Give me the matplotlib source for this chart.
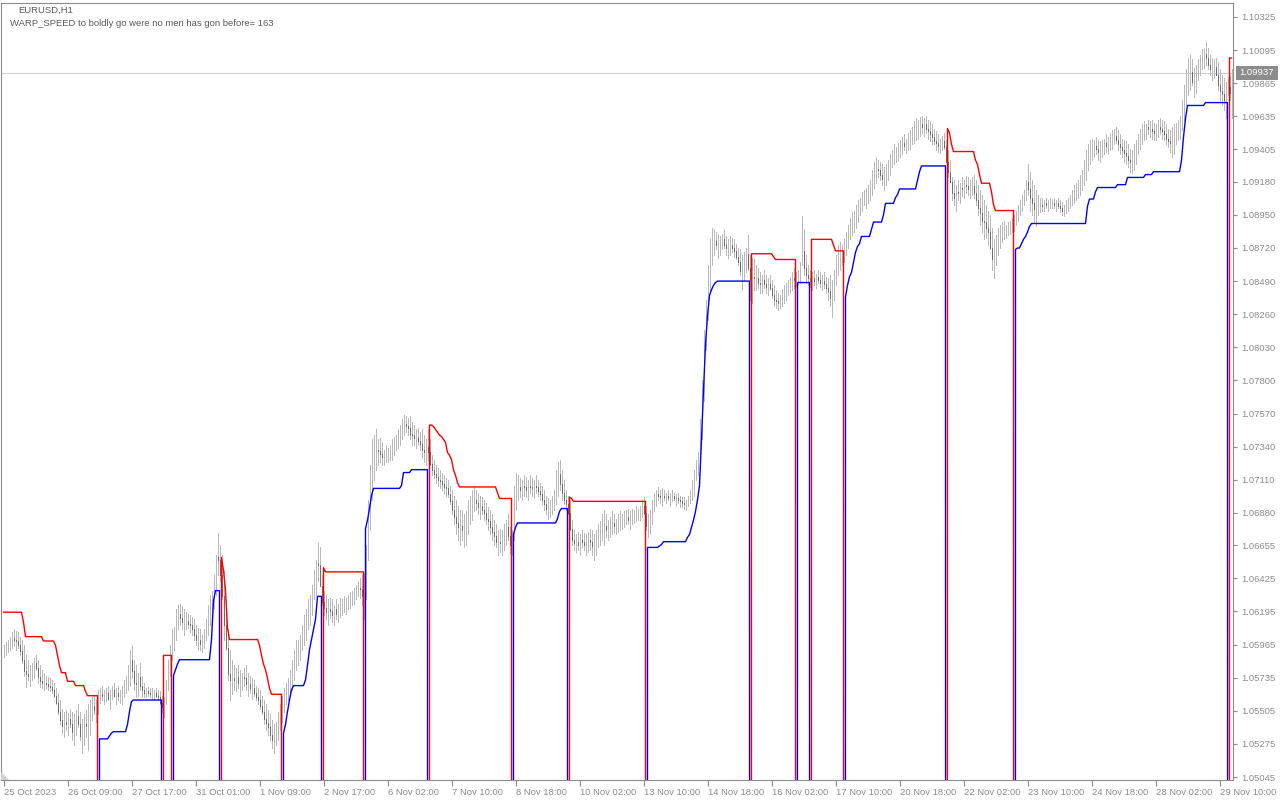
import numpy as np
import matplotlib
matplotlib.use("Agg")
import matplotlib.pyplot as plt
import matplotlib.transforms as mtrans
from matplotlib.collections import LineCollection
from matplotlib.patches import Rectangle, Polygon

# ---------------- data (prices as pips above BASE) ----------------
BASE = 1.0500
PIP = 0.0001

HIGH = [
    96, 98, 100, 102, 105, 107, 106, 105, 102, 100,
    96, 89, 86, 82, 84, 87, 89, 86, 82, 79,
    77, 75, 74, 73, 72, 70, 66, 63, 58, 52,
    50, 51, 49, 52, 50, 48, 51, 55, 50, 45,
    48, 51, 55, 58, 60, 61, 58, 65, 66, 68,
    65, 66, 68, 65, 68, 70, 66, 68, 65, 68,
    72, 75, 82, 93, 96, 86, 82, 77, 84, 75,
    70, 66, 67, 66, 66, 65, 66, 65, 64, 61,
    60, 72, 86, 96, 107, 109, 121, 124, 125, 123,
    121, 119, 118, 117, 116, 114, 110, 108, 107, 103,
    107, 114, 124, 131, 134, 145, 159, 174, 166, 159,
    148, 128, 107, 93, 86, 82, 80, 82, 79, 77,
    80, 82, 77, 75, 73, 72, 68, 66, 65, 61,
    58, 55, 51, 48, 44, 41, 43, 50, 55, 61,
    66, 70, 73, 79, 86, 93, 100, 100, 103, 110,
    117, 121, 128, 131, 138, 148, 155, 167, 164, 145,
    134, 131, 128, 129, 128, 124, 128, 125, 129, 128,
    130, 129, 131, 133, 134, 136, 138, 141, 143, 145,
    146, 166, 197, 221, 239, 242, 246, 239, 240, 237,
    232, 235, 233, 235, 239, 241, 242, 246, 249, 253,
    256, 255, 254, 255, 251, 249, 246, 247, 244, 246,
    242, 239, 246, 239, 228, 225, 221, 219, 218, 216,
    214, 212, 211, 207, 204, 200, 197, 193, 190, 190,
    187, 189, 197, 200, 204, 206, 204, 202, 200, 199,
    197, 195, 192, 190, 187, 183, 180, 176, 177, 176,
    180, 183, 187, 178, 176, 207, 216, 214, 212, 211,
    214, 213, 211, 214, 212, 211, 214, 211, 209, 207,
    204, 200, 198, 197, 200, 204, 218, 223, 225, 218,
    211, 204, 200, 197, 183, 176, 173, 175, 173, 176,
    174, 173, 175, 177, 176, 173, 176, 180, 182, 187,
    190, 187, 183, 185, 189, 187, 184, 187, 189, 187,
    189, 190, 191, 189, 191, 190, 193, 191, 193, 197,
    199, 193, 187, 190, 197, 202, 204, 206, 204, 205,
    204, 202, 204, 202, 204, 202, 201, 202, 200, 199,
    199, 197, 200, 204, 211, 218, 225, 230, 253, 280,
    315, 336, 360, 378, 386, 385, 383, 382, 380, 382,
    385, 380, 378, 380, 379, 378, 375, 372, 371, 367,
    369, 372, 381, 367, 365, 364, 360, 358, 355, 353,
    357, 353, 351, 353, 350, 346, 343, 341, 339, 343,
    346, 348, 350, 352, 355, 358, 355, 357, 362, 394,
    385, 367, 360, 357, 355, 357, 354, 357, 355, 353,
    355, 352, 351, 353, 350, 357, 367, 374, 376, 374,
    378, 383, 388, 393, 397, 398, 402, 405, 407, 411,
    412, 414, 416, 419, 426, 432, 435, 433, 432, 430,
    428, 430, 433, 437, 440, 444, 442, 445, 447, 449,
    451, 448, 452, 454, 456, 460, 462, 461, 463, 464,
    462, 464, 461, 460, 458, 455, 453, 451, 448, 450,
    452, 447, 440, 433, 421, 419, 416, 419, 417, 421,
    419, 422, 421, 419, 421, 423, 419, 416, 412, 409,
    405, 402, 398, 395, 386, 378, 381, 386, 388, 390,
    391, 388, 390, 391, 393, 395, 398, 402, 405, 409,
    412, 419, 430, 425, 419, 416, 412, 409, 407, 407,
    405, 407, 405, 407, 406, 407, 405, 407, 405, 404,
    402, 405, 407, 409, 412, 416, 417, 419, 423, 426,
    433, 440, 444, 447, 448, 447, 449, 447, 446, 447,
    448, 451, 449, 452, 454, 455, 456, 454, 451, 448,
    447, 446, 444, 441, 440, 444, 447, 451, 455, 458,
    460, 458, 461, 460, 461, 459, 458, 461, 462, 461,
    460, 458, 455, 454, 456, 458, 459, 461, 464, 475,
    485, 496, 504, 506, 503, 497, 499, 503, 506, 510,
    511, 515, 511, 506, 504, 503, 504, 501, 496, 492,
    490, 487, 491, 492, 496,
]

LOW = [
    88, 89, 91, 93, 94, 96, 93, 94, 89, 84,
    75, 67, 72, 68, 72, 73, 79, 70, 67, 66,
    65, 66, 65, 64, 63, 60, 55, 48, 41, 35,
    32, 37, 34, 39, 30, 27, 34, 39, 30, 21,
    27, 32, 23, 34, 44, 48, 43, 48, 56, 58,
    55, 57, 58, 52, 59, 60, 55, 58, 56, 55,
    60, 63, 65, 68, 73, 65, 60, 61, 65, 60,
    60, 60, 61, 60, 59, 58, 60, 58, 55, 50,
    46, 55, 65, 75, 86, 93, 100, 107, 110, 107,
    103, 107, 108, 105, 103, 100, 96, 93, 93, 91,
    94, 100, 103, 110, 117, 121, 131, 145, 141, 128,
    100, 93, 72, 58, 62, 65, 64, 66, 61, 65,
    68, 65, 61, 63, 59, 61, 58, 55, 52, 48,
    41, 37, 34, 30, 25, 21, 27, 30, 37, 43,
    50, 55, 58, 61, 65, 72, 79, 82, 86, 93,
    96, 100, 107, 110, 117, 128, 131, 141, 138, 124,
    117, 114, 110, 115, 112, 110, 114, 112, 116, 117,
    119, 118, 121, 122, 124, 125, 128, 130, 129, 124,
    114, 128, 155, 176, 197, 211, 218, 221, 223, 221,
    221, 223, 223, 225, 225, 228, 232, 233, 235, 239,
    242, 244, 242, 239, 235, 235, 233, 235, 232, 226,
    223, 221, 225, 221, 214, 212, 209, 207, 205, 204,
    202, 200, 199, 194, 187, 180, 173, 169, 166, 169,
    164, 166, 173, 180, 183, 189, 190, 187, 184, 187,
    183, 180, 176, 173, 169, 166, 164, 159, 161, 159,
    162, 166, 169, 160, 159, 169, 190, 197, 199, 197,
    200, 199, 197, 202, 200, 198, 202, 200, 197, 194,
    190, 187, 184, 185, 187, 190, 194, 200, 204, 197,
    194, 190, 187, 176, 166, 162, 161, 162, 159, 164,
    162, 159, 161, 162, 159, 155, 159, 164, 166, 169,
    166, 171, 169, 171, 173, 174, 173, 175, 176, 177,
    178, 180, 180, 177, 180, 181, 182, 183, 183, 185,
    187, 176, 171, 173, 180, 189, 193, 197, 195, 193,
    197, 195, 197, 193, 196, 197, 193, 195, 192, 192,
    191, 190, 193, 195, 197, 200, 211, 214, 225, 239,
    266, 301, 322, 343, 360, 367, 371, 365, 367, 371,
    372, 367, 365, 367, 369, 366, 364, 360, 353, 343,
    350, 355, 357, 336, 334, 343, 343, 344, 341, 341,
    344, 341, 339, 343, 337, 332, 330, 329, 330, 332,
    334, 336, 339, 341, 343, 344, 345, 346, 348, 360,
    353, 348, 346, 345, 343, 346, 344, 348, 345, 343,
    344, 341, 336, 332, 324, 336, 346, 353, 357, 360,
    362, 367, 372, 378, 381, 383, 386, 390, 395, 398,
    402, 400, 403, 405, 409, 414, 417, 421, 419, 416,
    412, 416, 419, 423, 428, 430, 432, 433, 435, 437,
    440, 438, 440, 441, 444, 445, 447, 448, 450, 452,
    450, 452, 448, 446, 444, 444, 440, 439, 438, 440,
    441, 433, 421, 418, 405, 402, 398, 405, 403, 408,
    407, 410, 409, 407, 409, 407, 402, 395, 388, 383,
    378, 379, 374, 371, 357, 351, 360, 367, 372, 376,
    378, 379, 381, 382, 383, 384, 388, 391, 395, 398,
    402, 405, 409, 398, 395, 390, 387, 395, 397, 398,
    398, 400, 398, 400, 400, 400, 398, 400, 397, 395,
    394, 396, 398, 400, 402, 403, 405, 407, 409, 412,
    416, 419, 426, 430, 433, 435, 437, 433, 432, 435,
    437, 439, 437, 440, 441, 444, 445, 440, 437, 435,
    432, 430, 428, 425, 424, 426, 430, 437, 441, 444,
    447, 448, 451, 449, 448, 447, 447, 449, 451, 448,
    447, 444, 442, 439, 435, 437, 444, 447, 448, 454,
    461, 471, 478, 482, 485, 477, 480, 489, 492, 496,
    497, 499, 496, 492, 489, 490, 492, 482, 475, 471,
    468, 462, 478, 475, 462,
]

CLOSE = [
    93, 95, 97, 99, 101, 100, 99, 96, 92, 86,
    78, 76, 75, 77, 80, 84, 80, 74, 71, 70,
    70, 69, 68, 67, 65, 61, 56, 50, 44, 40,
    43, 41, 45, 41, 36, 42, 47, 41, 33, 36,
    41, 40, 45, 51, 54, 51, 56, 60, 62, 61,
    61, 63, 59, 63, 65, 61, 63, 61, 62, 66,
    69, 73, 80, 86, 78, 70, 69, 74, 68, 65,
    63, 64, 63, 62, 62, 63, 61, 60, 56, 53,
    58, 71, 84, 95, 101, 108, 116, 118, 115, 112,
    113, 113, 111, 110, 107, 103, 100, 100, 97, 100,
    106, 113, 120, 125, 132, 143, 157, 155, 145, 130,
    110, 94, 76, 72, 73, 72, 74, 70, 71, 74,
    73, 69, 69, 66, 66, 63, 60, 58, 54, 50,
    45, 42, 39, 34, 30, 32, 40, 46, 51, 58,
    62, 66, 70, 75, 82, 89, 92, 94, 101, 106,
    110, 117, 121, 127, 137, 143, 153, 152, 137, 126,
    122, 119, 121, 120, 117, 121, 118, 122, 122, 124,
    124, 126, 127, 129, 130, 133, 135, 136, 135, 130,
    140, 163, 195, 218, 228, 232, 232, 231, 229, 227,
    228, 228, 230, 232, 234, 237, 239, 242, 246, 249,
    250, 248, 247, 243, 242, 240, 241, 238, 236, 232,
    230, 234, 230, 222, 218, 215, 213, 211, 210, 208,
    206, 205, 201, 196, 190, 185, 181, 178, 179, 176,
    177, 184, 190, 193, 197, 197, 195, 192, 193, 190,
    188, 184, 182, 178, 175, 172, 168, 168, 167, 170,
    174, 178, 172, 166, 170, 202, 206, 206, 204, 207,
    206, 204, 207, 206, 205, 207, 206, 203, 201, 197,
    194, 191, 191, 193, 197, 203, 211, 215, 208, 202,
    197, 194, 188, 177, 169, 167, 168, 166, 169, 168,
    166, 167, 169, 168, 165, 166, 171, 174, 178, 179,
    179, 176, 178, 180, 181, 179, 181, 182, 182, 183,
    185, 185, 183, 185, 186, 187, 187, 188, 191, 193,
    188, 179, 180, 187, 195, 198, 201, 200, 199, 200,
    199, 200, 198, 200, 200, 198, 198, 197, 196, 195,
    194, 196, 199, 203, 209, 216, 222, 229, 250, 278,
    312, 334, 356, 372, 377, 377, 374, 374, 376, 378,
    374, 372, 373, 374, 372, 370, 366, 362, 356, 358,
    363, 368, 358, 350, 352, 351, 351, 348, 347, 350,
    347, 345, 347, 344, 339, 336, 335, 334, 337, 340,
    342, 344, 346, 349, 351, 350, 351, 355, 360, 370,
    358, 353, 351, 349, 351, 349, 352, 350, 348, 349,
    347, 344, 342, 337, 345, 355, 363, 367, 367, 370,
    375, 380, 385, 389, 391, 394, 397, 401, 404, 407,
    407, 409, 412, 417, 423, 426, 427, 426, 423, 420,
    423, 426, 430, 434, 437, 437, 439, 441, 443, 445,
    443, 446, 447, 450, 452, 454, 455, 456, 458, 456,
    458, 455, 453, 451, 449, 446, 445, 443, 445, 446,
    442, 432, 425, 418, 410, 407, 411, 410, 414, 413,
    416, 415, 413, 415, 415, 410, 405, 400, 396, 391,
    390, 386, 383, 372, 364, 368, 376, 380, 383, 384,
    384, 385, 386, 388, 389, 393, 396, 400, 403, 407,
    411, 418, 413, 407, 403, 399, 402, 402, 402, 401,
    403, 402, 403, 403, 403, 402, 403, 401, 400, 398,
    400, 402, 404, 407, 409, 411, 413, 416, 419, 424,
    429, 435, 438, 440, 441, 443, 441, 439, 441, 442,
    445, 443, 446, 447, 449, 450, 447, 444, 442, 440,
    438, 436, 433, 432, 434, 438, 443, 448, 451, 453,
    453, 456, 455, 455, 453, 452, 455, 456, 455, 453,
    451, 448, 446, 445, 447, 451, 454, 456, 462, 472,
    482, 491, 494, 494, 487, 489, 496, 499, 503, 504,
    507, 504, 499, 496, 496, 498, 492, 485, 481, 479,
    475, 484, 484, 480, 494,
]

# trailing-stop level (pips above BASE), run-length: (level, number of bars)
STOP_RUNS = [
    (119, 10), (112, 1), (102, 9), (99, 6), (96, 1), (89, 1), (82, 1), (77, 3), (71, 4), (68, 5), (64, 1), (61, 6),
    (31, 5), (33, 1), (35, 1), (36, 7), (41, 1), (50, 1), (57, 1), (58, 15),
    (89, 5),
    (75, 1), (79, 1), (83, 1), (86, 16), (100, 1), (127, 1), (134, 3),
    (157, 1), (148, 1), (134, 1), (108, 1), (100, 15), (96, 1), (89, 1), (83, 1), (79, 1), (73, 1), (66, 1), (62, 6),
    (35, 1), (41, 1), (50, 1), (58, 1), (65, 1), (68, 6), (72, 1), (82, 1), (93, 1), (100, 1), (107, 1), (114, 1), (130, 3),
    (150, 1), (147, 20),
    (177, 1), (183, 1), (191, 1), (200, 1), (205, 14), (207, 1), (216, 4), (218, 9),
    (249, 2), (248, 1), (246, 1), (244, 1), (242, 1), (241, 1), (239, 1), (237, 1), (230, 1), (228, 1), (225, 1),
    (218, 1), (214, 1), (209, 1), (206, 19), (202, 1), (198, 7),
    (173, 1), (178, 1), (181, 20), (184, 1), (189, 1), (191, 4),
    (199, 1), (198, 1), (196, 37),
    (164, 6), (165, 1), (166, 1), (168, 12), (171, 1), (173, 1), (178, 1), (183, 1), (189, 1), (197, 1), (207, 1),
    (239, 1), (273, 1), (305, 1), (325, 1), (339, 1), (343, 1), (346, 1), (348, 1), (349, 17),
    (368, 11), (366, 1), (364, 11),
    (348, 7),
    (378, 11), (374, 1), (370, 5),
    (338, 1), (346, 1), (352, 1), (355, 1), (362, 1), (369, 1), (373, 1), (375, 1), (380, 5), (385, 1), (390, 5),
    (395, 1), (403, 5), (407, 1), (409, 1), (413, 9), (419, 1), (425, 1), (429, 13),
    (455, 1), (452, 1), (444, 1), (439, 11), (433, 1), (430, 1), (423, 1), (417, 5), (411, 1), (402, 1), (398, 10),
    (371, 1), (372, 2), (375, 1), (378, 1), (380, 1), (383, 1), (387, 1), (389, 28), (401, 1), (406, 3), (411, 1),
    (414, 10), (416, 5), (421, 9), (423, 4), (425, 14), (433, 1), (449, 1), (462, 1), (471, 9), (473, 12),
    (504, 2),
]

# first bar of each trend leg; legs alternate: down (red) first, then up (blue)
TREND_STARTS = [0, 48, 80, 85, 109, 140, 160, 181, 213, 255, 283, 322, 374, 397, 404, 421, 472, 506, 613]

PRICE_TICKS = [1.05045, 1.05275, 1.05505, 1.05735, 1.05965, 1.06195, 1.06425, 1.06655,
               1.06880, 1.07110, 1.07340, 1.07570, 1.07800, 1.08030, 1.08260, 1.08490,
               1.08720, 1.08950, 1.09180, 1.09405, 1.09635, 1.09865, 1.10095, 1.10325]

DATE_LABELS = ['25 Oct 2023', '26 Oct 09:00', '27 Oct 17:00', '31 Oct 01:00', '1 Nov 09:00',
               '2 Nov 17:00', '6 Nov 02:00', '7 Nov 10:00', '8 Nov 18:00', '10 Nov 02:00',
               '13 Nov 10:00', '14 Nov 18:00', '16 Nov 02:00', '17 Nov 10:00', '20 Nov 18:00',
               '22 Nov 02:00', '23 Nov 10:00', '24 Nov 18:00', '28 Nov 02:00', '29 Nov 10:00']
BARS_PER_LABEL = 32

LAST_PRICE = 1.09937
TITLE = 'EURUSD,H1'
SUBTITLE = 'WARP_SPEED to boldly go were no men has gon before= 163'

# ---------------- build series ----------------
high = BASE + np.array(HIGH) * PIP
low = BASE + np.array(LOW) * PIP
close = BASE + np.array(CLOSE) * PIP
opn = np.concatenate([[close[0]], close[:-1]])
n = len(high)
idx = np.arange(n)

stop = BASE + np.repeat([v for v, c in STOP_RUNS], [c for v, c in STOP_RUNS]) * PIP
red = np.full(n, np.nan)
blue = np.full(n, np.nan)
bounds = TREND_STARTS + [n]
for j in range(len(TREND_STARTS)):
    a, b = bounds[j], bounds[j + 1]
    arr = red if j % 2 == 0 else blue
    arr[a:b] = stop[a:b]
    if b < n:
        arr[b] = 0.0     # buffer drops to zero on the switch bar
    if a > 0:
        arr[a - 1] = 0.0

# ---------------- figure ----------------
W, H = 1280, 800
FONT = ['Liberation Sans', 'DejaVu Sans']
plt.rcParams['font.family'] = FONT
fig = plt.figure(figsize=(W / 100, H / 100), dpi=100, facecolor='white')

ax_l, ax_r, ax_t, ax_b = 1, 1233, 3, 780
ax = fig.add_axes([ax_l / W, 1 - ax_b / H, (ax_r - ax_l) / W, (ax_b - ax_t) / H])
ax.set_facecolor('white')

px_per_bar = 2.0
x0 = -(3.5 - ax_l) / px_per_bar
ax.set_xlim(x0, x0 + (ax_r - ax_l) / px_per_bar)
YLO, YHI = 1.050243, 1.104218
ax.set_ylim(YLO, YHI)

# current price line
ax.axhline(LAST_PRICE, color='#cccccc', lw=0.72, zorder=1, antialiased=False)

# candles: light wicks (bull bodies same tone), dark bear bodies
wick_segs = [((i, l), (i, h)) for i, l, h in zip(idx, low, high)]
bear = close < opn
body_segs = [((i, o), (i, c)) for i, o, c, d in zip(idx, opn, close, bear) if d]
ax.add_collection(LineCollection(wick_segs, colors='#b9b9b9', linewidths=0.72, antialiased=False, zorder=2))
ax.add_collection(LineCollection(body_segs, colors='#6c6c6c', linewidths=0.72, antialiased=False, zorder=3))

# trailing stop lines
ax.plot(idx, red, color='#ff0000', lw=1.0, zorder=4)
ax.plot(idx, blue, color='#0000ff', lw=1.0, zorder=4)

# frame
for s in ax.spines.values():
    s.set_color('#8c8c8c')
    s.set_linewidth(0.8)

# right price axis
ax.yaxis.tick_right()
ax.set_yticks(PRICE_TICKS)
ax.set_yticklabels([f'{p:.5f}' for p in PRICE_TICKS])
ax.tick_params(axis='y', direction='out', length=3, width=0.8, color='#8c8c8c',
               labelcolor='#8c8c8c', labelsize=6.8, pad=3)

# bottom time axis
xt = [k * BARS_PER_LABEL for k in range(len(DATE_LABELS))]
ax.set_xticks(xt)
ax.set_xticklabels(DATE_LABELS, ha='left')
ax.tick_params(axis='x', direction='out', length=4, width=0.8, color='#8c8c8c',
               labelcolor='#8c8c8c', labelsize=6.8, pad=2)
offset = mtrans.ScaledTranslation(1.0 / 100, 0, fig.dpi_scale_trans)
for lab in ax.get_xticklabels():
    lab.set_transform(lab.get_transform() + offset)

# small grey corner marker (chart shift)
ax.add_patch(Polygon([[0, 0], [8 / (ax_r - ax_l), 0], [0, 8 / (ax_b - ax_t)]], closed=True,
                     transform=ax.transAxes, facecolor='#d0d0d0', edgecolor='none', zorder=5))

# last price tag
ty = 1 - (ax_b - (LAST_PRICE - YLO) / (YHI - YLO) * (ax_b - ax_t)) / H
fig.patches.append(Rectangle((1236 / W, ty - 7 / H), 42 / W, 14 / H, transform=fig.transFigure,
                             facecolor='#8c8c8c', edgecolor='none', zorder=10))
fig.text(1239 / W, ty, f'{LAST_PRICE:.5f}', color='white', fontsize=6.8, va='center', ha='left', zorder=11)

# header texts
fig.text(18 / W, 1 - 10 / H, TITLE, color='#5a5a5a', fontsize=6.8, va='center', ha='left')
fig.text(10 / W, 1 - 23 / H, SUBTITLE, color='#5a5a5a', fontsize=6.8, va='center', ha='left')

fig.savefig('out.png', dpi=100, facecolor='white')
